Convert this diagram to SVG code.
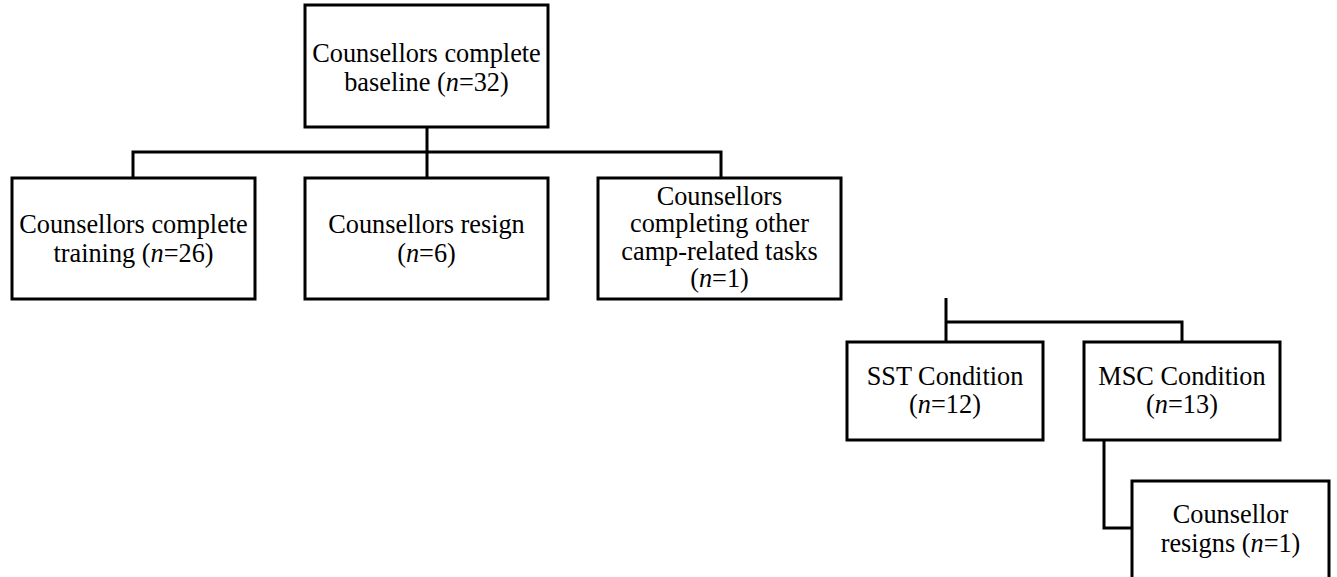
<svg xmlns="http://www.w3.org/2000/svg" width="1337" height="577" viewBox="0 0 1337 577">
<style>
.box{fill:#fff;stroke:#000;stroke-width:3}
.ln{fill:none;stroke:#000;stroke-width:3}
text{font-family:"Liberation Serif","Times New Roman",serif;font-size:26.3px;fill:#000;text-anchor:middle}
</style>
<rect width="1337" height="577" fill="#fff"/>
<g id="connectors">
<path class="ln" d="M427,127 V178 M133,178 V152 H721 V178"/>
<path class="ln" d="M946,298 V342 M946,322 H1182 V342"/>
<path class="ln" d="M1104,440 V528 H1132"/>
</g>
<g id="baseline">
<rect class="box" x="305" y="5" width="243" height="122"/>
<text x="426.5" y="62">Counsellors complete</text>
<text x="426.5" y="91">baseline (<tspan font-style="italic">n</tspan>=32)</text>
</g>
<g id="training">
<rect class="box" x="12" y="178" width="243" height="121"/>
<text x="133.5" y="233">Counsellors complete</text>
<text x="133.5" y="262">training (<tspan font-style="italic">n</tspan>=26)</text>
</g>
<g id="resign">
<rect class="box" x="305" y="178" width="243" height="121"/>
<text x="426.5" y="233">Counsellors resign</text>
<text x="426.5" y="262">(<tspan font-style="italic">n</tspan>=6)</text>
</g>
<g id="other">
<rect class="box" x="598" y="178" width="243" height="121"/>
<text x="719.5" y="205">Counsellors</text>
<text x="719.5" y="232">completing other</text>
<text x="719.5" y="260">camp-related tasks</text>
<text x="719.5" y="287">(<tspan font-style="italic">n</tspan>=1)</text>
</g>
<g id="sst">
<rect class="box" x="847" y="342" width="196" height="98"/>
<text x="945" y="385">SST Condition</text>
<text x="945" y="413">(<tspan font-style="italic">n</tspan>=12)</text>
</g>
<g id="msc">
<rect class="box" x="1084" y="342" width="196" height="98"/>
<text x="1182" y="385">MSC Condition</text>
<text x="1182" y="413">(<tspan font-style="italic">n</tspan>=13)</text>
</g>
<g id="resigns">
<rect class="box" x="1132" y="481" width="197" height="110"/>
<text x="1230.5" y="523">Counsellor</text>
<text x="1230.5" y="552">resigns (<tspan font-style="italic">n</tspan>=1)</text>
</g>
</svg>
